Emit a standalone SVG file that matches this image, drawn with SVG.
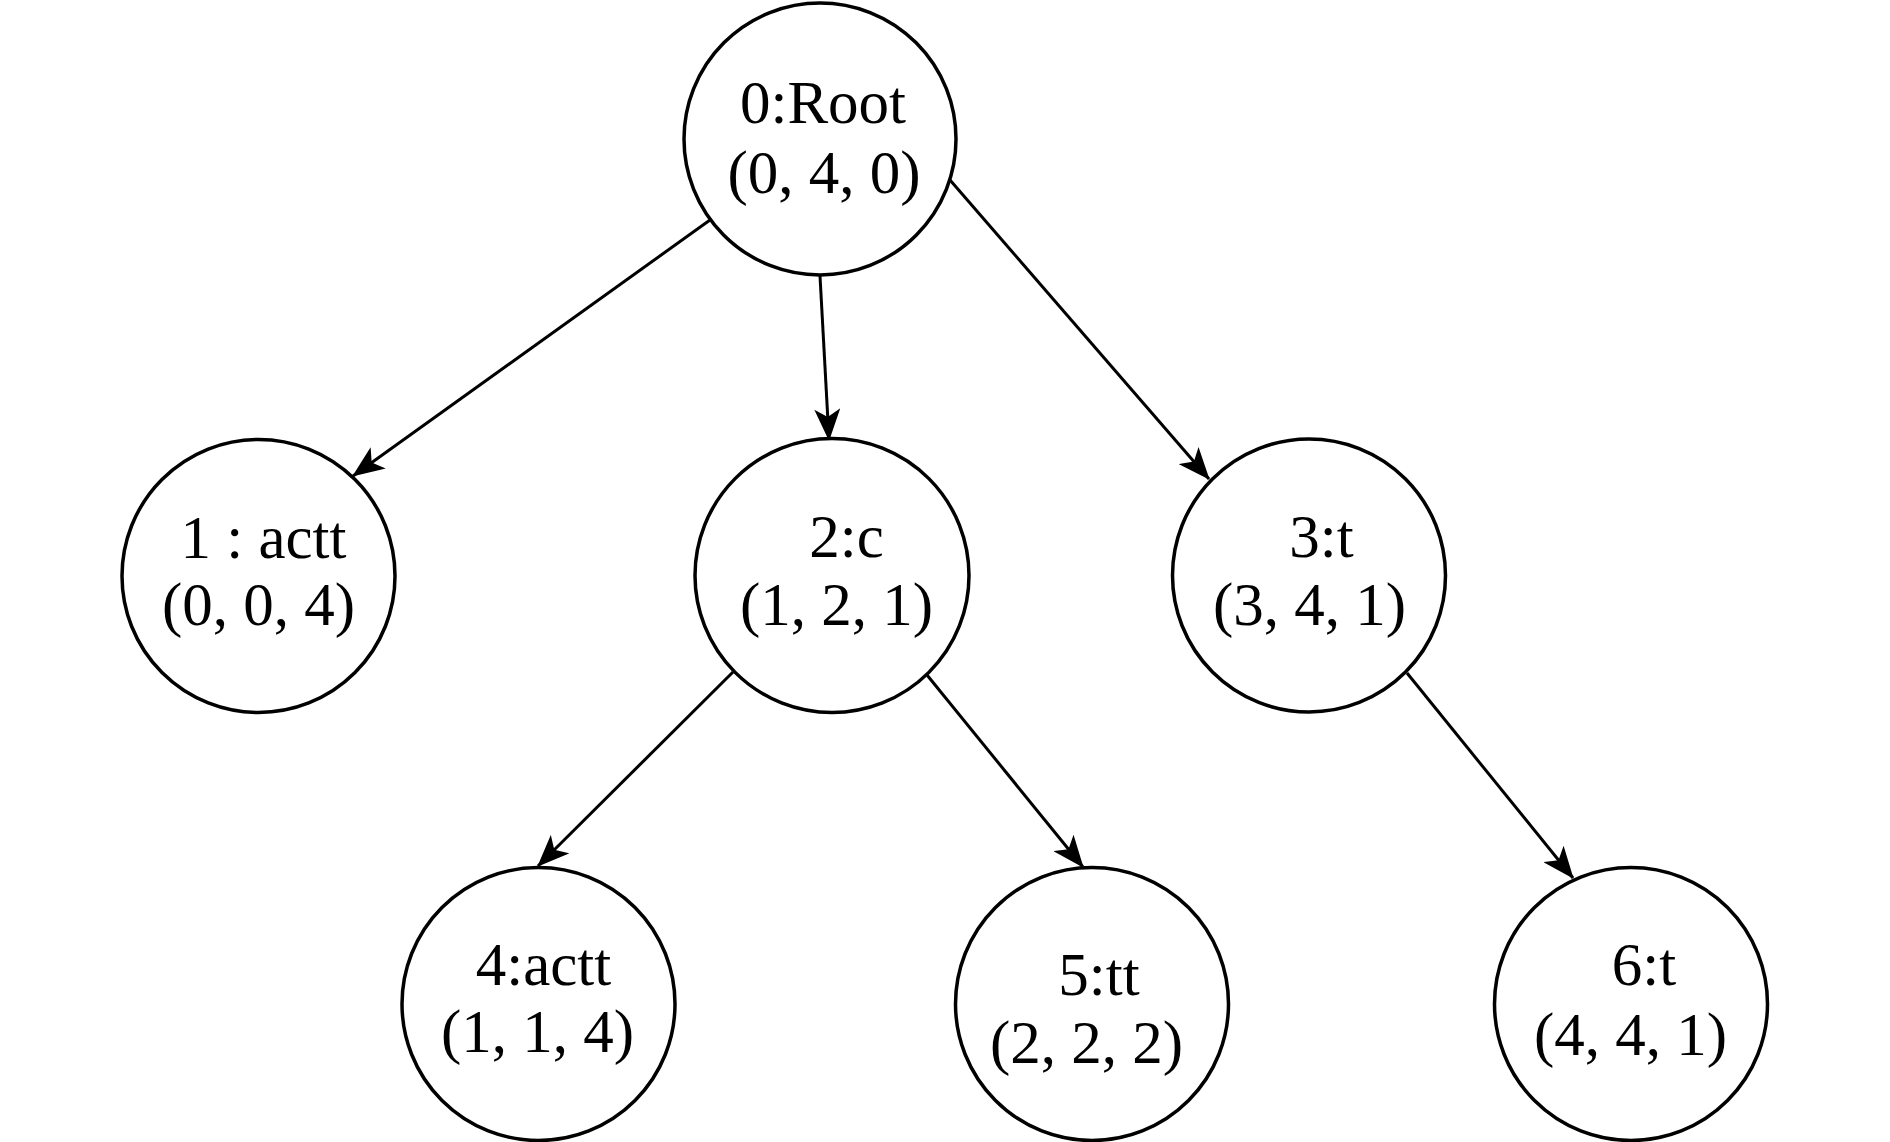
<svg xmlns="http://www.w3.org/2000/svg" width="1890" height="1142" viewBox="0 0 1890 1142">
<style>
.n{fill:#fff;stroke:#000;stroke-width:3.5}
.t{font-family:"Liberation Serif","Times New Roman",serif;font-size:61px;fill:#000;text-anchor:middle}
.e{stroke:#000;stroke-width:3;fill:none;marker-end:url(#arr)}
</style>
<defs>
<marker id="arr" markerUnits="userSpaceOnUse" viewBox="0 0 32 26" markerWidth="32" markerHeight="26" refX="31" refY="13" orient="auto">
<path d="M32,13 L0,0 L8,13 L0,26 Z" fill="#000"/>
</marker>
</defs>
<rect width="1890" height="1142" fill="#fff"/>
<g id="connectors">
<line class="e" x1="710" y1="220" x2="353" y2="476"/>
<line class="e" x1="820" y1="276" x2="829" y2="440"/>
<line class="e" x1="950" y1="180" x2="1209" y2="479"/>
<line class="e" x1="733" y1="672" x2="538" y2="866"/>
<line class="e" x1="927" y1="675" x2="1083" y2="867"/>
<line class="e" x1="1407" y1="673" x2="1573" y2="878"/>
</g>
<g id="node0">
<circle class="n" cx="820" cy="139" r="136"/>
<text class="t" x="823" y="123">0:Root</text>
<text class="t" x="824" y="193">(0, 4, 0)</text>
</g>
<g id="node1">
<circle class="n" cx="258.5" cy="576" r="136.5"/>
<text class="t" x="263.5" y="558">1 : actt</text>
<text class="t" x="258.5" y="625">(0, 0, 4)</text>
</g>
<g id="node2">
<circle class="n" cx="832" cy="575.5" r="137"/>
<text class="t" x="846.5" y="557">2:c</text>
<text class="t" x="836.5" y="625">(1, 2, 1)</text>
</g>
<g id="node3">
<circle class="n" cx="1309" cy="575.5" r="136.5"/>
<text class="t" x="1321.5" y="557">3:t</text>
<text class="t" x="1309.5" y="625">(3, 4, 1)</text>
</g>
<g id="node4">
<circle class="n" cx="538.5" cy="1004" r="136.5"/>
<text class="t" x="543.5" y="985">4:actt</text>
<text class="t" x="537.5" y="1052">(1, 1, 4)</text>
</g>
<g id="node5">
<circle class="n" cx="1092" cy="1004" r="136.5"/>
<text class="t" x="1099" y="995">5:tt</text>
<text class="t" x="1086.5" y="1063">(2, 2, 2)</text>
</g>
<g id="node6">
<circle class="n" cx="1631" cy="1004" r="136.5"/>
<text class="t" x="1644" y="985">6:t</text>
<text class="t" x="1630.5" y="1055">(4, 4, 1)</text>
</g>
</svg>
